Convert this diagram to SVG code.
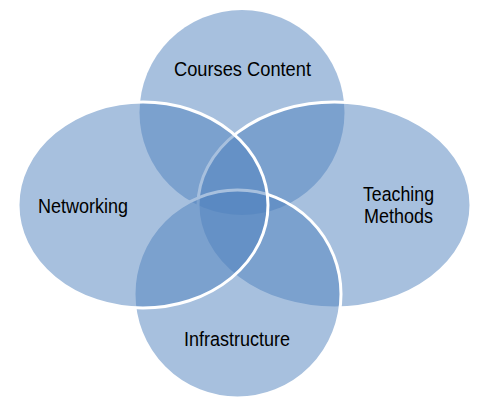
<svg xmlns="http://www.w3.org/2000/svg" width="484" height="413" viewBox="0 0 484 413">
<style>
.shape{fill:#4F81BD;fill-opacity:0.5;stroke:#FFFFFF;stroke-width:3}
.noline{stroke:none}
.lbl{font-family:"Liberation Sans",Arial,sans-serif;font-size:20.5px;fill:#000000;text-anchor:middle}
</style>
<rect width="484" height="413" fill="#FFFFFF"/>
<g id="connectors"></g>
<g id="node-courses">
<circle class="shape noline" cx="242" cy="112.5" r="102.5"/>
</g>
<g id="node-teaching">
<ellipse class="shape" cx="334.5" cy="205" rx="136.5" ry="103"/>
</g>
<g id="node-infrastructure">
<ellipse class="shape" cx="237.5" cy="294" rx="103.5" ry="104"/>
</g>
<g id="node-networking">
<ellipse class="shape" cx="143" cy="205" rx="125" ry="103"/>
</g>
<g id="labels">
<text class="lbl" x="242.5" y="76" textLength="137" lengthAdjust="spacingAndGlyphs">Courses Content</text>
<text class="lbl" x="83" y="213" textLength="90" lengthAdjust="spacingAndGlyphs">Networking</text>
<text class="lbl" x="398.5" y="201" textLength="71" lengthAdjust="spacingAndGlyphs">Teaching</text>
<text class="lbl" x="398.5" y="223" textLength="69" lengthAdjust="spacingAndGlyphs">Methods</text>
<text class="lbl" x="237" y="346" textLength="106" lengthAdjust="spacingAndGlyphs">Infrastructure</text>
</g>
</svg>
